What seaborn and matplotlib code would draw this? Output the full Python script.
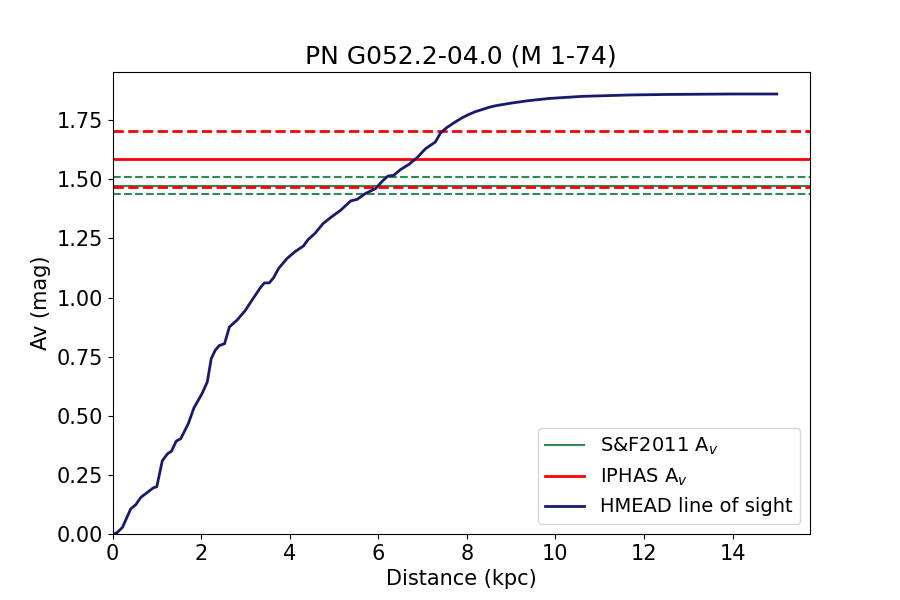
import numpy as np
import pandas as pd
import matplotlib
matplotlib.use("Agg")
import matplotlib.pyplot as plt
import seaborn as sns

# HMEAD extinction along the line of sight
distance_kpc = [0, 0.1, 0.225, 0.41, 0.525, 0.64, 0.78, 0.92, 1.0, 1.125,
                1.24, 1.33, 1.44, 1.54, 1.71, 1.84, 2.02, 2.14, 2.23, 2.32,
                2.41, 2.53, 2.64, 2.81, 3.0, 3.15, 3.34, 3.43, 3.54, 3.64,
                3.75, 3.94, 4.12, 4.31, 4.42, 4.57, 4.76, 4.95, 5.15, 5.38,
                5.52, 5.71, 5.94, 6.09, 6.22, 6.35, 6.50, 6.69, 6.88, 7.07,
                7.18, 7.29, 7.40, 7.52, 7.70, 7.89, 8.04, 8.19, 8.49, 8.64,
                9.02, 9.40, 9.85, 10.6, 11.7, 12.5, 13.2, 14.0, 15.0]
av_mag = [0, 0.005, 0.028, 0.106, 0.124, 0.155, 0.175, 0.195, 0.2, 0.31,
          0.339, 0.35, 0.393, 0.403, 0.466, 0.534, 0.593, 0.643, 0.742, 0.777,
          0.797, 0.805, 0.876, 0.904, 0.946, 0.989, 1.042, 1.062, 1.062, 1.085,
          1.123, 1.165, 1.194, 1.218, 1.246, 1.271, 1.314, 1.342, 1.369, 1.409,
          1.415, 1.44, 1.461, 1.492, 1.514, 1.517, 1.541, 1.563, 1.592, 1.630,
          1.644, 1.658, 1.694, 1.715, 1.738, 1.760, 1.774, 1.786, 1.804, 1.811,
          1.823, 1.833, 1.842, 1.851, 1.857, 1.859, 1.860, 1.861, 1.861]

# literature values: (value, error)
sf2011_av = 1.473
sf2011_err = 0.035
iphas_av = 1.585
iphas_err = 0.119

title = "PN G052.2-04.0 (M 1-74)"

los = pd.DataFrame({"distance": distance_kpc, "av": av_mag})

fig, ax = plt.subplots(figsize=(9, 6), dpi=100)

# S&F2011
ax.axhline(sf2011_av, color="seagreen", linewidth=1.5, label="S&F2011 A$_v$")
ax.axhline(sf2011_av + sf2011_err, color="seagreen", linewidth=1.5, linestyle="--")
ax.axhline(sf2011_av - sf2011_err, color="seagreen", linewidth=1.5, linestyle="--")

# IPHAS
ax.axhline(iphas_av, color="red", linewidth=2, label="IPHAS A$_v$")
ax.axhline(iphas_av + iphas_err, color="red", linewidth=2, linestyle="--")
ax.axhline(iphas_av - iphas_err, color="red", linewidth=2, linestyle="--")

sns.lineplot(data=los, x="distance", y="av", color="midnightblue",
             linewidth=2, label="HMEAD line of sight", ax=ax)

ax.set_xlim(left=0)
ax.set_ylim(bottom=0)
ax.set_xlabel("Distance (kpc)", fontsize=15)
ax.set_ylabel("Av (mag)", fontsize=15)
ax.set_title(title, fontsize=18)
ax.tick_params(labelsize=15)
ax.legend(loc="lower right", fontsize=14)

fig.savefig("out.png", dpi=100)
